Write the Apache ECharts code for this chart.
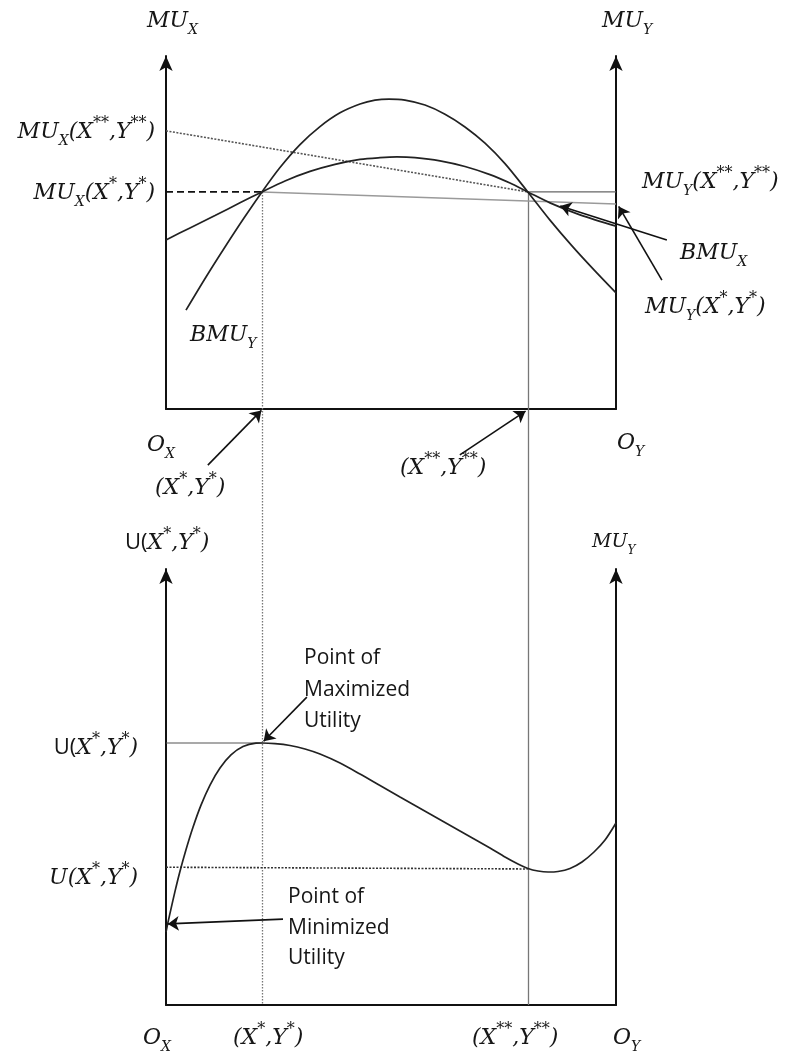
<!DOCTYPE html>
<html>
<head>
<meta charset="utf-8">
<script src="https://cdn.jsdelivr.net/npm/echarts@6/dist/echarts.min.js"></script>
<style>
  html, body { margin: 0; padding: 0; background: #fff; }
  #chart { width: 788px; height: 1055px; }
</style>
</head>
<body>
<div id="chart"></div>
<script>
// ---- Data ---------------------------------------------------------------
// Horizontal position along the box, O_X = 0 ... O_Y = 100
const xStar = 21.3;          // (X*, Y*)
const xStarStar = 80.4;      // (X**, Y**)

// Upper panel: marginal utilities (0-100 scale)
const muAtCrossing = 61.5;   // MU_X(X*,Y*) = MU_Y(X**,Y**) level
const muXAtStarStar = 78.8;  // MU_X(X**,Y**) on the left axis
const muYAtStarRight = 58.1; // MU_Y(X*,Y*) on the right axis

// BMU_Y: the tall hump
const bmuYCurve = [
  [4.44, 28.0], [8.89, 37.4], [13.11, 45.9], [17.33, 54.1], [21.33, 61.5],
  [25.33, 68.4], [29.78, 74.9], [34.22, 80.0], [38.67, 83.9], [43.11, 86.4],
  [46.44, 87.5], [49.56, 87.8], [53.11, 87.5], [57.56, 86.1], [62.0, 83.5],
  [66.44, 79.9], [70.89, 75.3], [75.33, 69.5], [80.4, 61.5], [85.33, 53.5],
  [90.22, 46.2], [95.11, 39.4], [100, 32.9]
];
// BMU_X: the flatter hump
const bmuXCurve = [
  [0, 47.9], [5.33, 51.3], [10.89, 54.8], [16.44, 58.4], [21.33, 61.5],
  [26.44, 64.6], [32.0, 67.3], [37.56, 69.3], [43.11, 70.7], [47.56, 71.2],
  [51.33, 71.4], [55.33, 71.2], [60.89, 70.3], [66.44, 68.7], [72.0, 66.4],
  [76.44, 64.0], [80.4, 61.5], [85.33, 58.4], [92.0, 55.0], [100, 51.8]
];

// Lower panel: total utility (0-100 scale)
const uMax = 60.1;              // U(X*,Y*) maximum level
const uMinGuide = [31.6, 31.2]; // dotted guide: at O_X and at X**
const utilityCurve = [
  [0, 16.74], [0.44, 18.94], [1.11, 22.06], [2.0, 26.06], [3.11, 30.67],
  [4.44, 35.60], [6.0, 40.76], [7.78, 45.83], [9.78, 50.44], [12.0, 54.36],
  [14.44, 57.36], [17.11, 59.27], [20.0, 60.05], [21.33, 60.09], [24.22, 59.95],
  [27.56, 59.52], [30.89, 58.72], [34.22, 57.57], [38.67, 55.50], [43.11, 52.98],
  [47.56, 50.34], [52.0, 47.71], [58.67, 43.81], [65.33, 39.91], [72.0, 36.01],
  [75.33, 33.94], [78.22, 32.34], [80.44, 31.31], [82.67, 30.73], [84.89, 30.50],
  [87.11, 30.62], [89.78, 31.31], [92.44, 32.80], [95.11, 35.09], [97.56, 37.84],
  [100, 41.74]
];

// Text (markup: _{..} subscript, ^{..} superscript, [..] upright)
const topAxisTitles = ['MU_{X}', 'MU_{Y}'];
const topLeftTicks = ['MU_{X}(X^{**},Y^{**})', 'MU_{X}(X^{*},Y^{*})'];
const topNotes = ['MU_{Y}(X^{**},Y^{**})', 'BMU_{X}', 'MU_{Y}(X^{*},Y^{*})', 'BMU_{Y}'];
const topBaseLabels = ['O_{X}', '(X^{*},Y^{*})', '(X^{**},Y^{**})', 'O_{Y}'];
const bottomAxisTitles = ['[U(]X^{*},Y^{*})', 'MU_{Y}'];
const bottomLeftTicks = ['[U(]X^{*},Y^{*})', 'U(X^{*},Y^{*})'];
const bottomNotes = ['Point of\nMaximized\nUtility', 'Point of\nMinimized\nUtility'];
const bottomTickLabels = ['O_{X}', '(X^{*},Y^{*})', '(X^{**},Y^{**})', 'O_{Y}'];

// ---- Layout -------------------------------------------------------------
const INK = '#161616';
const SERIF = '"DejaVu Serif", "Liberation Serif", serif';
const SANS = '"Open Sans", "Noto Sans", sans-serif';
const BOX_LEFT = 166, BOX_W = 450;
const TOP_PANEL = { top: 56, height: 353 };
const BOT_PANEL = { top: 569, height: 436 };
// how far (in upper-panel units) the guide lines drop to reach the lower baseline
const dropTo = -((BOT_PANEL.top + BOT_PANEL.height) - (TOP_PANEL.top + TOP_PANEL.height)) / (TOP_PANEL.height / 100);

function toRich(src) {
  let out = '';
  const re = /_\{([^}]*)\}|\^\{([^}]*)\}|\[([^\]]*)\]|([^_^\[]+)/g;
  let m;
  while ((m = re.exec(src))) {
    if (m[1] !== undefined) out += '{sub|' + m[1] + '}';
    else if (m[2] !== undefined) out += '{sup|' + m[2] + '}';
    else if (m[3] !== undefined) out += '{up|' + m[3] + '}';
    else out += '{m|' + m[4] + '}';
  }
  return out;
}
function richFor(size) {
  const L = Math.round(size * 1.5);
  return {
    m:   { fontFamily: SERIF, fontStyle: 'italic', fontSize: size, lineHeight: L, fill: INK },
    up:  { fontFamily: SANS, fontSize: size, lineHeight: L, fill: INK },
    sub: { fontFamily: SERIF, fontStyle: 'italic', fontSize: Math.round(size * 0.64), lineHeight: Math.round(size * 0.9), verticalAlign: 'bottom', fill: INK },
    sup: { fontFamily: SERIF, fontStyle: 'italic', fontSize: Math.round(size * 0.72), lineHeight: Math.round(size * 0.9), verticalAlign: 'top', fill: INK }
  };
}
function mathLabel(src, x, y, align, size) {
  size = size || 22;
  return {
    type: 'text', x: x, y: y, silent: true,
    style: { text: toRich(src), rich: richFor(size), align: align || 'left', verticalAlign: 'middle' }
  };
}
function noteLabel(text, x, y, lh) {
  return {
    type: 'text', x: x, y: y, silent: true,
    style: { text: text, fontFamily: SANS, fontSize: 21, lineHeight: lh, fill: INK, align: 'left', verticalAlign: 'middle' }
  };
}

const graphics = [
  mathLabel(topAxisTitles[0], 147, 21),
  mathLabel(topAxisTitles[1], 602, 21),
  mathLabel(topLeftTicks[0], 155, 132, 'right'),
  mathLabel(topLeftTicks[1], 155, 193, 'right'),
  mathLabel(topNotes[0], 642, 182),
  mathLabel(topNotes[1], 680, 253),
  mathLabel(topNotes[2], 645, 307),
  mathLabel(topNotes[3], 190, 335),
  mathLabel(topBaseLabels[0], 147, 445),
  mathLabel(topBaseLabels[1], 155, 488),
  mathLabel(topBaseLabels[2], 400, 468),
  mathLabel(topBaseLabels[3], 617, 443),
  mathLabel(bottomAxisTitles[0], 125, 543),
  mathLabel(bottomAxisTitles[1], 592, 542, 'left', 19),
  mathLabel(bottomLeftTicks[0], 138, 748, 'right'),
  mathLabel(bottomLeftTicks[1], 138, 878, 'right'),
  noteLabel(bottomNotes[0], 304, 690, 31.5),
  noteLabel(bottomNotes[1], 288, 928, 30.5),
  mathLabel(bottomTickLabels[0], 143, 1038),
  mathLabel(bottomTickLabels[1], 233, 1038),
  mathLabel(bottomTickLabels[2], 472, 1038),
  mathLabel(bottomTickLabels[3], 613, 1038)
];

// ---- Chart --------------------------------------------------------------
function xAxisFor(grid) {
  return {
    gridIndex: grid, type: 'value', min: 0, max: 100,
    axisLine: { show: true, onZero: false, lineStyle: { color: '#111', width: 2 } },
    axisTick: { show: false }, axisLabel: { show: false }, splitLine: { show: false }
  };
}
function yAxisFor(grid, side) {
  return {
    gridIndex: grid, type: 'value', min: 0, max: 100, position: side,
    axisLine: { show: true, onZero: false, symbol: ['none', 'arrow'], symbolSize: [10, 15],
                lineStyle: { color: '#111', width: 2 } },
    axisTick: { show: false }, axisLabel: { show: false }, splitLine: { show: false }
  };
}
function path(data, grid, style, extra) {
  return Object.assign({
    type: 'line', xAxisIndex: grid, yAxisIndex: grid * 2, data: data,
    symbol: 'none', showSymbol: false, silent: true, animation: false,
    lineStyle: style
  }, extra || {});
}
function segments(list, grid, style, withArrow) {
  return {
    type: 'lines', coordinateSystem: 'cartesian2d', xAxisIndex: grid, yAxisIndex: grid * 2,
    polyline: false, silent: true, animation: false, clip: false, z: withArrow ? 5 : 1,
    symbol: withArrow ? ['none', 'arrow'] : ['none', 'none'], symbolSize: 11,
    lineStyle: Object.assign({ opacity: 1, curveness: 0 }, style),
    data: list.map(s => ({ coords: s }))
  };
}

const curveStyle = { color: '#222', width: 1.7 };
const arrowStyle = { color: '#111', width: 1.6 };

const option = {
  animation: false,
  backgroundColor: '#fff',
  grid: [
    { left: BOX_LEFT, width: BOX_W, top: TOP_PANEL.top, height: TOP_PANEL.height, containLabel: false, outerBoundsMode: 'none' },
    { left: BOX_LEFT, width: BOX_W, top: BOT_PANEL.top, height: BOT_PANEL.height, containLabel: false, outerBoundsMode: 'none' }
  ],
  xAxis: [xAxisFor(0), xAxisFor(1)],
  yAxis: [yAxisFor(0, 'left'), yAxisFor(0, 'right'), yAxisFor(1, 'left'), yAxisFor(1, 'right')],
  series: [
    // guide lines running down through both panels
    segments([[[xStar, muAtCrossing], [xStar, dropTo]]], 0, { color: '#777', width: 1.3, type: [1.5, 1.5] }),
    segments([[[xStarStar, muAtCrossing], [xStarStar, dropTo]]], 0, { color: '#777', width: 1.3 }),
    // upper panel reference lines
    path([[0, muXAtStarStar], [xStarStar, muAtCrossing]], 0, { color: '#555', width: 1.6, type: [2, 1.5] }),
    path([[xStar, muAtCrossing], [100, muYAtStarRight]], 0, { color: '#9a9a9a', width: 1.5 }),
    path([[0, muAtCrossing], [xStar, muAtCrossing]], 0, { color: '#111', width: 1.6, type: [7, 4] }),
    path([[xStarStar, muAtCrossing], [100, muAtCrossing]], 0, { color: '#666', width: 1.1 }),
    // upper panel curves
    path(bmuYCurve, 0, curveStyle, { smooth: 0.3 }),
    path(bmuXCurve, 0, curveStyle, { smooth: 0.3 }),
    segments([
      [[9.3, -15.9], [21.2, -0.4]],
      [[65.3, -13.0], [79.9, -0.6]],
      [[111.3, 47.9], [87.6, 57.5]],
      [[110.2, 36.5], [100.6, 57.4]]
    ], 0, arrowStyle, true),
    // lower panel reference lines
    path([[0, uMax], [xStar, uMax]], 1, { color: '#555', width: 1.1 }),
    path([[0, uMinGuide[0]], [xStarStar, uMinGuide[1]]], 1, { color: '#333', width: 1.6, type: [2, 1.5] }),
    // utility curve
    path(utilityCurve, 1, curveStyle, { smooth: 0.3 }),
    segments([
      [[31.3, 70.6], [21.7, 60.5]],
      [[26.0, 19.7], [0.4, 18.6]]
    ], 1, arrowStyle, true)
  ],
  graphic: graphics
};

const chart = echarts.init(document.getElementById('chart'), null, { renderer: 'canvas' });
chart.setOption(option);
</script>
</body>
</html>
